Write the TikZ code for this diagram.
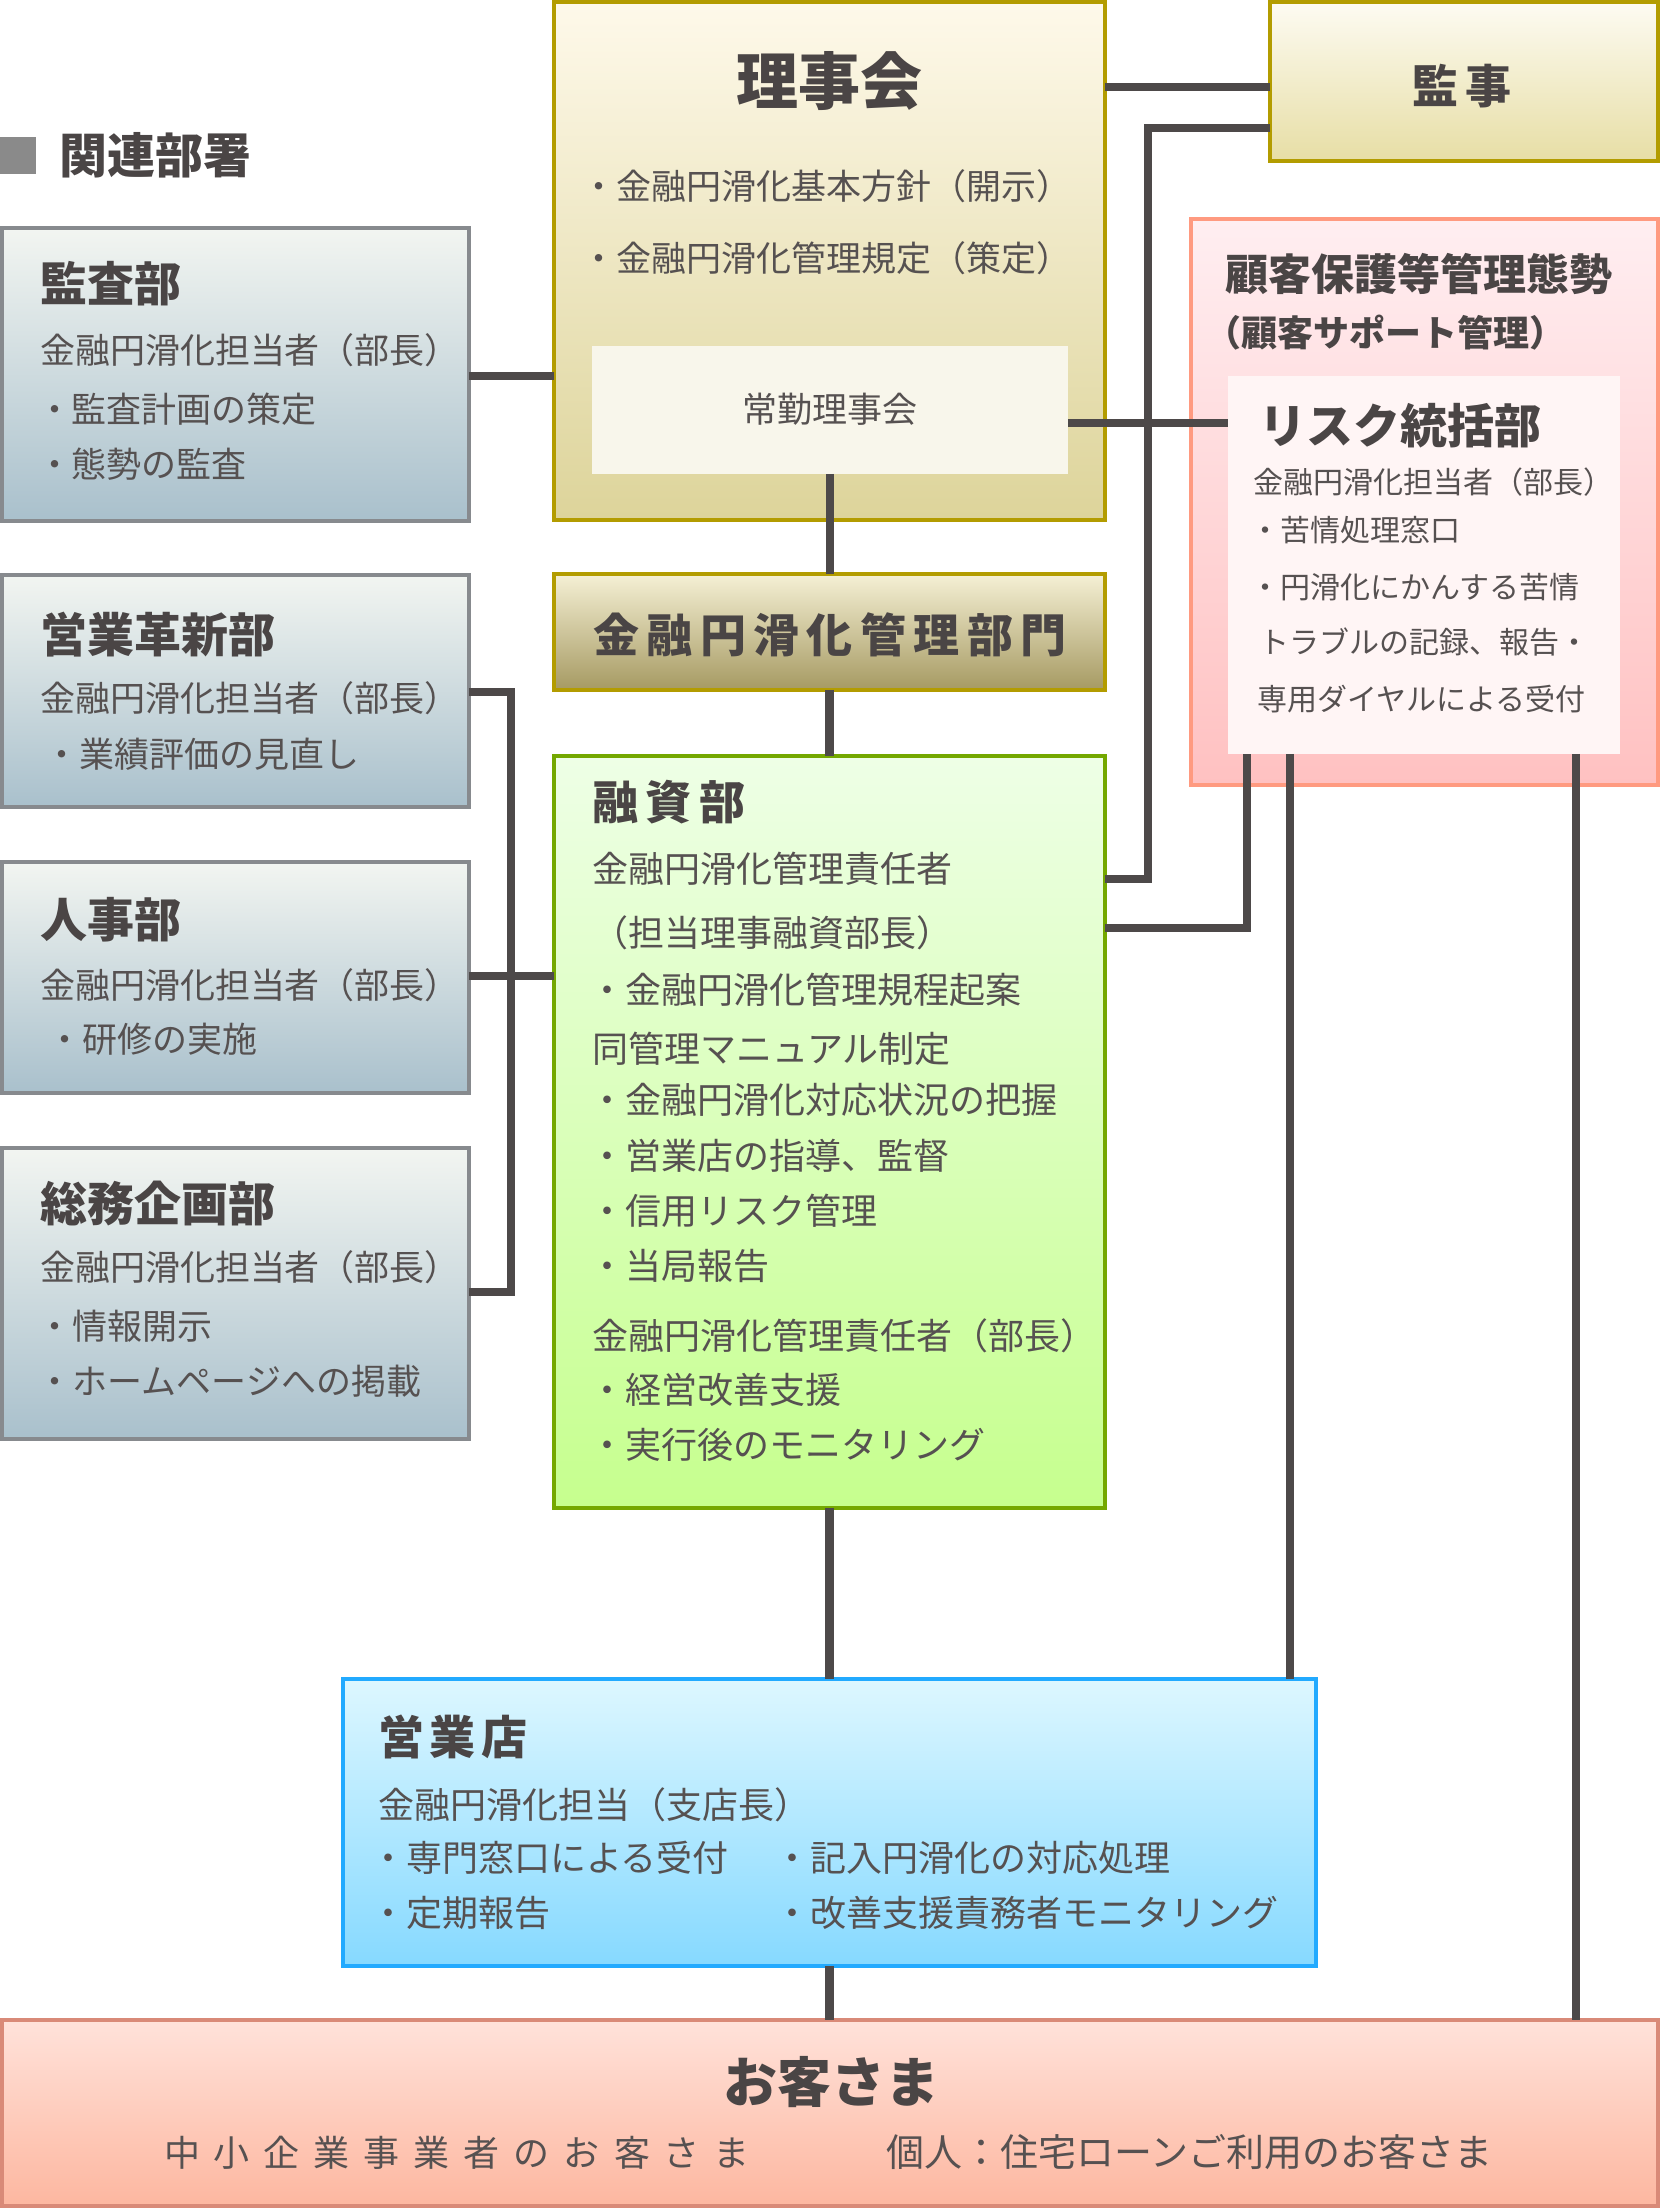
\documentclass[tikz,border=0pt]{standalone}
\usepackage{fontspec}
\setmainfont{Noto Sans CJK JP}
\usetikzlibrary{calc}
\definecolor{txtT}{HTML}{4A4545}
\definecolor{txtB}{HTML}{565151}
\definecolor{lineC}{HTML}{4D4949}
\definecolor{sqC}{HTML}{8A8A8A}
\definecolor{grayB}{HTML}{878A8E}
\definecolor{grayT}{HTML}{F2F5F1}
\definecolor{grayBot}{HTML}{A9C0CC}
\definecolor{goldB}{HTML}{B39C00}
\definecolor{rijiT}{HTML}{FEF9EA}
\definecolor{rijiBot}{HTML}{DDD49A}
\definecolor{jokinF}{HTML}{F8F6EB}
\definecolor{bumonT}{HTML}{F5F0D5}
\definecolor{bumonBot}{HTML}{A69A62}
\definecolor{kanjiT}{HTML}{FDFBF2}
\definecolor{kanjiBot}{HTML}{E7DEA5}
\definecolor{greenB}{HTML}{74A800}
\definecolor{greenT}{HTML}{EEFFE6}
\definecolor{greenBot}{HTML}{C6FF8E}
\definecolor{pinkB}{HTML}{FF9A80}
\definecolor{pinkT}{HTML}{FFEEF1}
\definecolor{pinkBot}{HTML}{FFC1C1}
\definecolor{riskF}{HTML}{FFF5F5}
\definecolor{blueB}{HTML}{22AAFF}
\definecolor{blueT}{HTML}{DDF7FF}
\definecolor{blueBot}{HTML}{86D9FF}
\definecolor{salB}{HTML}{D98A78}
\definecolor{salT}{HTML}{FFE2DA}
\definecolor{salBot}{HTML}{FDB7A0}
\newcommand\fsz[1]{\fontsize{#1pt}{#1pt}\selectfont}
\makeatletter
\newcommand\trk[2]{\def\trk@sep{}\@tfor\trk@c:=#2\do{\trk@sep\trk@c\def\trk@sep{\kern#1}}}
\makeatother
\newcommand\mkbox[6]{%
  \pgfmathsetmacro\mkW{(#5-#3-4.4)*0.5}%
  \pgfmathsetmacro\mkH{(#6-#4-4.4)*0.5}%
  \node[#1, minimum width=\mkW pt, minimum height=\mkH pt] (#2) at ({#3+2.2},{#4+2.2}) {};}
\begin{document}
\begin{tikzpicture}[x=0.5pt,y=-0.5pt,
  bx/.style={line width=2.2pt, inner sep=0, outer sep=0, anchor=north west},
  grayb/.style={bx, draw=grayB, top color=grayT, bottom color=grayBot},
  rijib/.style={bx, draw=goldB, top color=rijiT, bottom color=rijiBot},
  jokinb/.style={bx, fill=jokinF},
  kanjib/.style={bx, draw=goldB, top color=kanjiT, bottom color=kanjiBot},
  bumonb/.style={bx, draw=goldB, top color=bumonT, bottom color=bumonBot},
  yushib/.style={bx, draw=greenB, top color=greenT, bottom color=greenBot},
  kokyakub/.style={bx, draw=pinkB, top color=pinkT, bottom color=pinkBot},
  riskb/.style={bx, fill=riskF},
  tenb/.style={bx, draw=blueB, top color=blueT, bottom color=blueBot},
  okyakub/.style={bx, draw=salB, top color=salT, bottom color=salBot},
  conn/.style={line width=4.25pt, draw=lineC},
  tl/.style={inner sep=0, outer sep=0, anchor=base west, text=txtB},
  tc/.style={inner sep=0, outer sep=0, anchor=base, text=txtT},
  ttl/.style={tl, text=txtT, font=\fsz{23.5}\bfseries},
  b17/.style={tl, font=\fsz{17.5}},
  b18/.style={tl, font=\fsz{18}},
  b15/.style={tl, font=\fsz{15}}]
\useasboundingbox (0,0) rectangle (1660,2208);
\fill[white] (0,0) rectangle (1660,2208);

% boxes
\mkbox{grayb}{kansa}{0}{226}{471}{523}
\mkbox{grayb}{kakushin}{0}{573}{471}{809}
\mkbox{grayb}{jinji}{0}{860}{471}{1095}
\mkbox{grayb}{somu}{0}{1146}{471}{1441}
\mkbox{rijib}{rijikai}{552}{0}{1107}{522}
\mkbox{jokinb}{jokin}{590}{344}{1070}{476}
\mkbox{kanjib}{kanji}{1268}{0}{1660}{163}
\mkbox{bumonb}{bumon}{552}{572}{1107}{692}
\mkbox{yushib}{yushi}{552}{754}{1107}{1510}
\mkbox{kokyakub}{kokyaku}{1189}{217}{1660}{787}
\mkbox{riskb}{risk}{1226}{374}{1622}{756}
\mkbox{tenb}{eigyoten}{341}{1677}{1318}{1968}
\mkbox{okyakub}{okyaku}{0}{2018}{1660}{2208}

% connectors
\draw[conn] (kansa.east |- 0,376) -- (rijikai.west |- 0,376);
\draw[conn] (rijikai.east |- 0,87) -- (kanji.west |- 0,87);
\draw[conn] (kanji.west |- 0,128) -- (1148,128) -- (1148,879) -- (yushi.east |- 0,879);
\draw[conn] (jokin.east |- 0,423) -- (risk.west |- 0,423);
\draw[conn] (jokin.south) -- (jokin.south |- bumon.north);
\draw[conn] (bumon.south) -- (bumon.south |- yushi.north);
\draw[conn] (yushi.south) -- (yushi.south |- eigyoten.north);
\draw[conn] (eigyoten.south) -- (eigyoten.south |- okyaku.north);
\draw[conn] (kakushin.east |- 0,692) -- (511,692) -- (511,1292) -- (somu.east |- 0,1292);
\draw[conn] (jinji.east |- 0,976) -- (yushi.west |- 0,976);
\draw[conn] (yushi.east |- 0,928) -- (1247,928) -- (risk.south -| 1247,0);
\draw[conn] (risk.south -| 1290,0) -- (eigyoten.north -| 1290,0);
\draw[conn] (risk.south -| 1576,0) -- (okyaku.north -| 1576,0);

% header
\fill[sqC] (0,137) rectangle (36,174);
\node[ttl, font=\fsz{24}\bfseries] (hdr) at (60,173) {関連部署};

% 監査部
\node[ttl] (kansaT) at (40,301) {監査部};
\node[b17] (kansa1) at (40,363) {金融円滑化担当者（部長）};
\node[b17] (kansa2) at (37,422) {・監査計画の策定};
\node[b17] (kansa3) at (37,477) {・態勢の監査};

% 営業革新部
\node[ttl] (kakT) at (40,652) {営業革新部};
\node[b17] (kak1) at (40,711) {金融円滑化担当者（部長）};
\node[b17] (kak2) at (45,767) {・業績評価の見直し};

% 人事部
\node[ttl] (jinT) at (40,937) {人事部};
\node[b17] (jin1) at (40,998) {金融円滑化担当者（部長）};
\node[b17] (jin2) at (47,1052) {・研修の実施};

% 総務企画部
\node[ttl] (somuT) at (40,1221) {総務企画部};
\node[b17] (somu1) at (40,1280) {金融円滑化担当者（部長）};
\node[b17] (somu2) at (38,1339) {・情報開示};
\node[b17] (somu3) at (38,1394) {・ホームページへの掲載};

% 理事会
\node[tc, font=\fsz{31}\bfseries] (rijiT) at (829,104) {理事会};
\node[b17] (riji1) at (581,199) {・金融円滑化基本方針（開示）};
\node[b17] (riji2) at (581,271) {・金融円滑化管理規定（策定）};
\node[tc, text=txtB, font=\fsz{17.5}] (jokinT) at (830,422) {常勤理事会};

% 金融円滑化管理部門
\node[tc, font=\fsz{23}\bfseries] (bumonT) at (830,652) {\trk{3.75pt}{金融円滑化管理部門}};

% 監事
\node[tc, font=\fsz{23}\bfseries] (kanjiT) at (1462,103) {\trk{4pt}{監事}};

% 顧客保護等管理態勢
\node[ttl, font=\fsz{21.5}\bfseries] (kokT) at (1225,290) {顧客保護等管理態勢};
\node[ttl, font=\fsz{18}\bfseries] (kokT2) at (1205,346) {（顧客サポート管理）};
\node[ttl, font=\fsz{23.5}\bfseries] (riskT) at (1259,443) {リスク統括部};
\node[b15] (risk1) at (1253,493) {金融円滑化担当者（部長）};
\node[b15] (risk2) at (1250,541) {・苦情処理窓口};
\node[b15] (risk3) at (1250,598) {・円滑化にかんする苦情};
\node[b15] (risk4) at (1259,653) {トラブルの記録、報告・};
\node[b15] (risk5) at (1257,710) {専用ダイヤルによる受付};

% 融資部
\node[ttl, font=\fsz{23}\bfseries] (yushiT) at (592,819) {\trk{4pt}{融資部}};
\node[b18] (y1) at (592,882) {金融円滑化管理責任者};
\node[b18] (y2) at (592,946) {（担当理事融資部長）};
\node[b18] (y3) at (589,1003) {・金融円滑化管理規程起案};
\node[b18] (y4) at (592,1062) {同管理マニュアル制定};
\node[b18] (y5) at (589,1113) {・金融円滑化対応状況の把握};
\node[b18] (y6) at (589,1169) {・営業店の指導、監督};
\node[b18] (y7) at (589,1224) {・信用リスク管理};
\node[b18] (y8) at (589,1279) {・当局報告};
\node[b18] (y9) at (592,1349) {金融円滑化管理責任者（部長）};
\node[b18] (y10) at (589,1403) {・経営改善支援};
\node[b18] (y11) at (589,1458) {・実行後のモニタリング};

% 営業店
\node[ttl, font=\fsz{23}\bfseries] (tenT) at (378,1754) {\trk{3pt}{営業店}};
\node[b18] (ten1) at (378,1818) {金融円滑化担当（支店長）};
\node[b18] (ten2) at (370,1871) {・専門窓口による受付};
\node[b18] (ten3) at (774,1871) {・記入円滑化の対応処理};
\node[b18] (ten4) at (370,1926) {・定期報告};
\node[b18] (ten5) at (774,1926) {・改善支援責務者モニタリング};

% お客さま
\node[tc, font=\fsz{27}\bfseries] (okT) at (831,2102) {お客さま};
\node[b18] (ok1) at (164,2166) {\trk{7pt}{中小企業事業者のお客さま}};
\node[tl, font=\fsz{19}] (ok2) at (886,2166) {個人：住宅ローンご利用のお客さま};
\end{tikzpicture}
\end{document}
